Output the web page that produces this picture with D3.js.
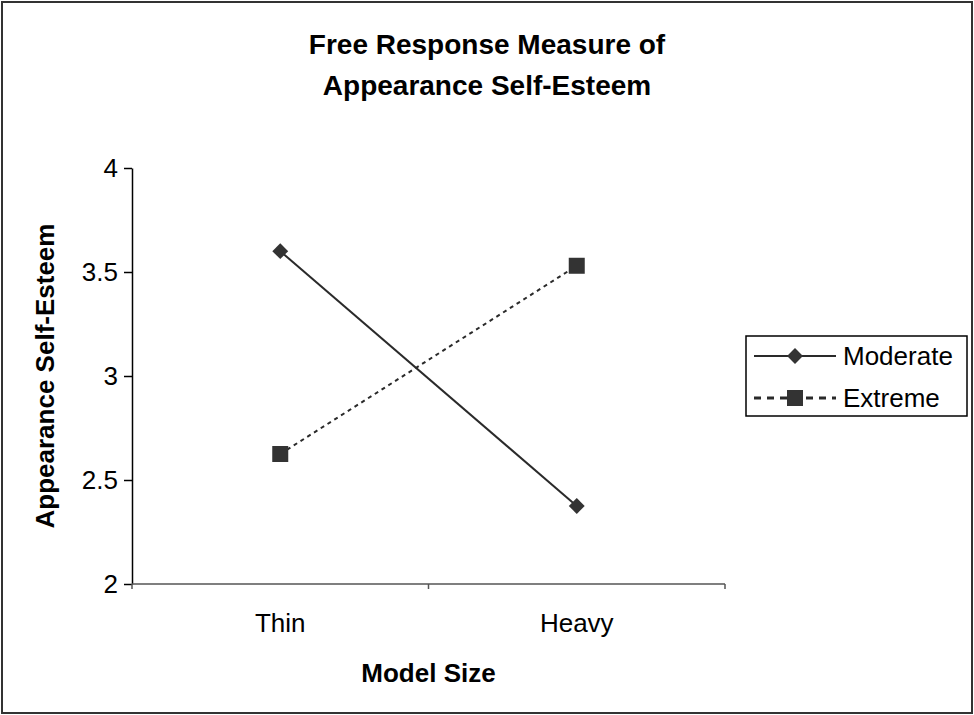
<!DOCTYPE html>
<html>
<head>
<meta charset="utf-8">
<script src="https://cdn.jsdelivr.net/npm/d3@7"></script>
<style>
body { margin: 0; background: #fff; }
text { font-family: Arial, "Liberation Sans", sans-serif; fill: #000; }
</style>
</head>
<body>
<div id="chart"></div>
<script>
// data
var categories = ["Thin", "Heavy"];
var moderate = [3.6, 2.375];
var extreme = [2.625, 3.53];
var yTicks = [2, 2.5, 3, 3.5, 4];

var w = 974;
var h = 715;

var svg = d3.select("#chart")
    .append("svg")
    .attr("width", w)
    .attr("height", h);

// outer frame
svg.append("rect")
    .attr("x", 2)
    .attr("y", 2)
    .attr("width", 970)
    .attr("height", 711)
    .attr("fill", "none")
    .attr("stroke", "#333")
    .attr("stroke-width", 2);

svg.append("text")
    .attr("x", 487)
    .attr("y", 54)
    .attr("text-anchor", "middle")
    .style("font-size", "28px")
    .attr("font-weight", "bold")
    .text("Free Response Measure of");
svg.append("text")
    .attr("x", 487)
    .attr("y", 95)
    .attr("text-anchor", "middle")
    .style("font-size", "28px")
    .attr("font-weight", "bold")
    .text("Appearance Self-Esteem");

var plotLeft = 132, plotRight = 725, plotTop = 168, plotBottom = 584;

var xScale = d3.scaleBand()
    .domain(categories)
    .range([plotLeft, plotRight]);

var yScale = d3.scaleLinear()
    .domain([2, 4])
    .range([plotBottom, plotTop]);

// y axis
var yAxis = d3.axisLeft(yScale)
    .tickValues(yTicks)
    .tickFormat(d3.format("~g"))
    .tickSize(8)
    .tickSizeOuter(0)
    .tickPadding(6);

var gy = svg.append("g")
    .attr("transform", "translate(" + plotLeft + ",0)")
    .call(yAxis);
gy.select(".domain").attr("stroke", "#000").attr("stroke-width", 1.5);
gy.selectAll(".tick line").attr("stroke", "#000").attr("stroke-width", 1.5);
gy.selectAll(".tick text")
    .style("font-size", "26px")
    .style("font-family", "Arial, 'Liberation Sans', sans-serif")
    .attr("fill", "#000");

// x axis: ticks between categories, labels centred
var gx = svg.append("g")
    .attr("transform", "translate(0," + plotBottom + ")");
gx.append("line")
    .attr("x1", plotLeft)
    .attr("x2", plotRight)
    .attr("stroke", "#555")
    .attr("stroke-width", 1.5);
var bounds = [plotLeft, xScale("Heavy"), plotRight];
gx.selectAll(".xtick")
    .data(bounds)
    .enter()
    .append("line")
    .attr("x1", function(d) { return d; })
    .attr("x2", function(d) { return d; })
    .attr("y1", 0)
    .attr("y2", 5)
    .attr("stroke", "#555")
    .attr("stroke-width", 1.5);
gx.selectAll(".xlabel")
    .data(categories)
    .enter()
    .append("text")
    .attr("x", function(d) { return xScale(d) + xScale.bandwidth() / 2; })
    .attr("y", 48)
    .attr("text-anchor", "middle")
    .style("font-size", "26px")
    .text(function(d) { return d; });

svg.append("text")
    .attr("x", (plotLeft + plotRight) / 2)
    .attr("y", 682)
    .attr("text-anchor", "middle")
    .style("font-size", "26px")
    .attr("font-weight", "bold")
    .text("Model Size");

svg.append("text")
    .attr("transform", "translate(54," + ((plotTop + plotBottom) / 2) + ") rotate(-90)")
    .attr("text-anchor", "middle")
    .style("font-size", "26px")
    .attr("font-weight", "bold")
    .text("Appearance Self-Esteem");

// series
var series = [
    { name: "Moderate", values: moderate, dash: null, shape: "diamond" },
    { name: "Extreme", values: extreme, dash: "4,4", shape: "square" }
];

var cx = function(i) { return xScale(categories[i]) + xScale.bandwidth() / 2; };
var line = d3.line()
    .x(function(d, i) { return cx(i); })
    .y(function(d) { return yScale(d); });

function marker(g, shape, x, y) {
    if (shape === "diamond") {
        g.append("path")
            .attr("d", d3.symbol(d3.symbolDiamond2, 160)())
            .attr("transform", "translate(" + x + "," + y + ")")
            .attr("fill", "#333");
    } else {
        g.append("rect")
            .attr("x", x - 8)
            .attr("y", y - 8)
            .attr("width", 16)
            .attr("height", 16)
            .attr("fill", "#333");
    }
}

series.forEach(function(s) {
    svg.append("path")
        .datum(s.values)
        .attr("d", line)
        .attr("fill", "none")
        .attr("stroke", "#2a2a2a")
        .attr("stroke-width", 2)
        .attr("stroke-dasharray", s.dash);
    s.values.forEach(function(v, i) {
        marker(svg, s.shape, cx(i), yScale(v));
    });
});

// legend
var legend = svg.append("g");
legend.append("rect")
    .attr("x", 746)
    .attr("y", 336)
    .attr("width", 221)
    .attr("height", 80)
    .attr("fill", "#fff")
    .attr("stroke", "#000")
    .attr("stroke-width", 1.5);

series.forEach(function(s, i) {
    var y = 356 + i * 42;
    legend.append("line")
        .attr("x1", 754)
        .attr("x2", 836)
        .attr("y1", y)
        .attr("y2", y)
        .attr("stroke", "#2a2a2a")
        .attr("stroke-width", s.dash ? 3 : 2)
        .attr("stroke-dasharray", s.dash ? "7,6" : null);
    marker(legend, s.shape, 795, y);
    legend.append("text")
        .attr("x", 843)
        .attr("y", y + 9)
        .style("font-size", "26px")
        .text(s.name);
});
</script>
</body>
</html>
